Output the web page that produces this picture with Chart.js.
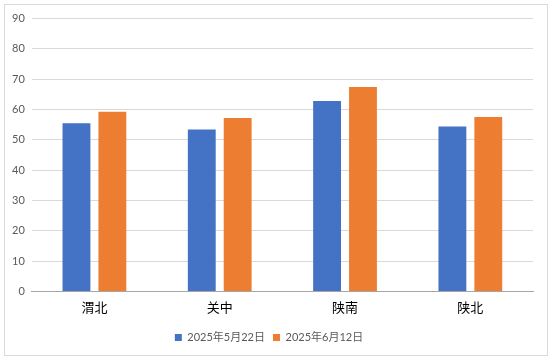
<!DOCTYPE html>
<html>
<head>
<meta charset="utf-8">
<script src="https://cdn.jsdelivr.net/npm/chart.js@4"></script>
<style>
    body { margin: 0; background: #fff; }
    #wrap {
        position: absolute; left: 4px; top: 4px;
        width: 542px; height: 350px;
        border: 1px solid #d9d9d9;
    }
</style>
</head>
<body>
<div id="wrap"><canvas id="chart" width="542" height="350"></canvas></div>
<script>
const regions = ['渭北', '关中', '陕南', '陕北'];
const seriesNames = ['2025年5月22日', '2025年6月12日'];
const may22 = [55.5, 53.4, 62.8, 54.4];
const jun12 = [59.3, 57.2, 67.4, 57.5];
const yTicks = { min: 0, max: 90, step: 10 };

document.addEventListener('DOMContentLoaded', () => {
    const ctx = document.getElementById('chart').getContext('2d');
    const font = "Lato, 'Noto Sans CJK SC', sans-serif";

    new Chart(ctx, {
        type: 'bar',
        data: {
            labels: regions,
            datasets: [
                { label: seriesNames[0], data: may22, backgroundColor: '#4472C4' },
                { label: seriesNames[1], data: jun12, backgroundColor: '#ED7D31' }
            ]
        },
        options: {
            responsive: false,
            animation: false,
            layout: { padding: { top: 9, right: 14, left: 0, bottom: 2 } },
            datasets: { bar: { categoryPercentage: 0.573, barPercentage: 0.776 } },
            plugins: {
                legend: {
                    position: 'bottom',
                    labels: {
                        boxWidth: 7, boxHeight: 7, padding: 8,
                        color: '#595959',
                        font: { family: font, size: 11 }
                    }
                },
                tooltip: { enabled: false }
            },
            scales: {
                x: {
                    grid: { display: false },
                    border: { color: '#a6a6a6' },
                    ticks: { color: '#000', padding: 0, font: { family: "'Noto Sans CJK SC', sans-serif", size: 13 } },
                    // leave room between the category labels and the legend
                    afterFit: (scale) => { scale.height += 9; }
                },
                y: {
                    min: yTicks.min,
                    max: yTicks.max,
                    grid: { color: '#d9d9d9', drawTicks: false },
                    border: { display: false },
                    ticks: { stepSize: yTicks.step, padding: 7, color: '#595959', font: { family: font, size: 11 } }
                }
            }
        }
    });
});
</script>
</body>
</html>
